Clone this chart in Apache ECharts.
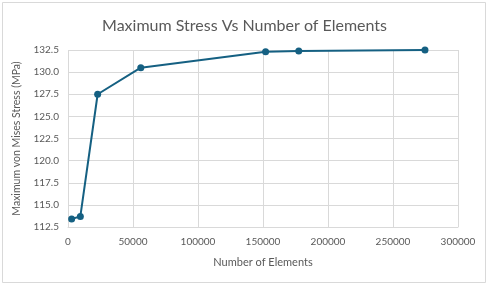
<!DOCTYPE html>
<html>
<head>
<meta charset="utf-8">
<script src="https://cdn.jsdelivr.net/npm/echarts@6/dist/echarts.min.js"></script>
<style>
  html, body { margin: 0; padding: 0; background: #fff; }
  #chart { width: 489px; height: 286px; }
</style>
</head>
<body>
<div id="chart"></div>
<script>
// number of elements vs max von Mises stress (MPa)
const elements = [2800, 9500, 22800, 56000, 152000, 177500, 274600];
const stress = [113.4, 113.7, 127.5, 130.5, 132.3, 132.4, 132.5];

const chart = echarts.init(document.getElementById('chart'));
const textColor = '#595959';
const fontFamily = 'Lato, "Noto Sans", sans-serif';

const option = {
    backgroundColor: '#fff',
    animation: false,
    title: {
        text: 'Maximum Stress Vs Number of Elements',
        left: 'center',
        top: 13,
        textStyle: { color: textColor, fontSize: 16, fontWeight: 'normal', fontFamily: fontFamily }
    },
    grid: { left: 68, right: 31, top: 50, bottom: 59 },
    xAxis: {
        type: 'value',
        min: 0,
        max: 300000,
        interval: 50000,
        name: 'Number of Elements',
        nameLocation: 'middle',
        nameGap: 30,
        nameTextStyle: { color: textColor, fontSize: 11, fontFamily: fontFamily },
        axisLine: { show: true, lineStyle: { color: '#d9d9d9' } },
        axisTick: { show: false },
        axisLabel: {
            color: textColor, fontSize: 10, margin: 10, fontFamily: fontFamily,
            formatter: function (v) { return String(v); }
        },
        splitLine: { show: true, lineStyle: { color: '#d9d9d9', width: 1 } }
    },
    yAxis: {
        type: 'value',
        min: 112.5,
        max: 132.5,
        interval: 2.5,
        name: 'Maximum von Mises Stress (MPa)',
        nameLocation: 'middle',
        nameGap: 37,
        nameTextStyle: { color: textColor, fontSize: 10.5, fontFamily: fontFamily },
        axisLine: { show: false },
        axisTick: { show: false },
        axisLabel: {
            color: textColor, fontSize: 10, margin: 9, fontFamily: fontFamily,
            formatter: function (v) { return v.toFixed(1); }
        },
        splitLine: { show: true, lineStyle: { color: '#d9d9d9', width: 1 } }
    },
    graphic: [{
        type: 'rect',
        shape: { x: 2.5, y: 2.5, width: 483, height: 280 },
        style: { fill: 'none', stroke: '#d9d9d9', lineWidth: 1 },
        silent: true
    }],
    series: [{
        type: 'line',
        data: elements.map((x, i) => [x, stress[i]]),
        symbol: 'circle',
        symbolSize: 7,
        lineStyle: { color: '#156082', width: 2 },
        itemStyle: { color: '#156082' }
    }]
};

chart.setOption(option);
</script>
</body>
</html>
